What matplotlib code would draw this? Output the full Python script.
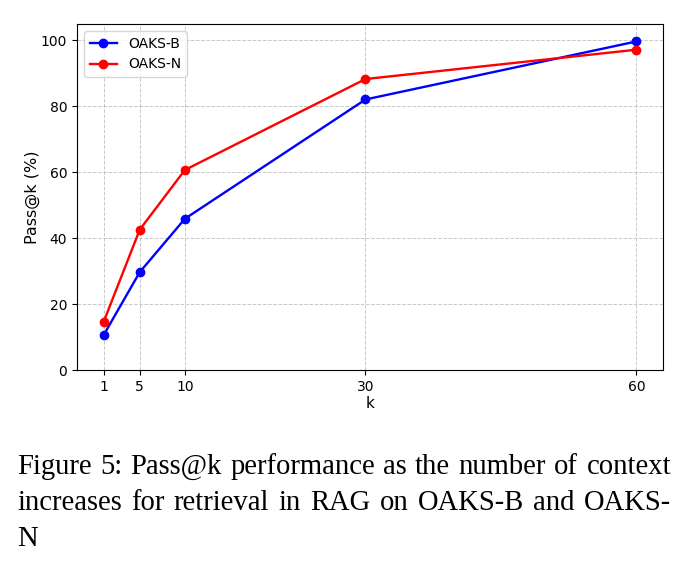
import matplotlib
matplotlib.use("Agg")
import matplotlib.pyplot as plt

k_values = [1, 5, 10, 30, 60]
oaks_b = [10.6, 29.7, 45.9, 82.1, 99.7]
oaks_n = [14.6, 42.6, 60.7, 88.3, 97.2]
y_ticks = [0, 20, 40, 60, 80, 100]
caption_lines = [
    "Figure 5: Pass@k performance as the number of context",
    "increases for retrieval in RAG on OAKS-B and OAKS-",
    "N",
]

W, H = 691, 570
fig = plt.figure(figsize=(W/100, H/100), dpi=100)
ax = fig.add_axes([77/W, 1-370/H, (663-77)/W, (370-24)/H])

ax.plot(k_values, oaks_b, color="blue", marker="o", markersize=6, linewidth=1.7, label="OAKS-B")
ax.plot(k_values, oaks_n, color="red", marker="o", markersize=6, linewidth=1.7, label="OAKS-N")
ax.set_xticks(k_values)
ax.set_yticks(y_ticks)
ax.set_ylim(0, 105)
ax.tick_params(labelsize=10)
ax.set_xlabel("k", fontsize=11, labelpad=2)
ax.set_ylabel("Pass@k (%)", fontsize=11.5, labelpad=1)
ax.grid(True, linestyle="--", color="#b0b0b0", alpha=0.7, linewidth=0.7)
ax.legend(loc="upper left", fontsize=10)

# Justified caption (word by word, real text)
renderer = fig.canvas.get_renderer()
left_px, right_px = 17, 671
baselines = [474, 510, 546]
for i, line in enumerate(caption_lines):
    words = line.split(" ")
    texts = [fig.text(0, 1 - baselines[i]/H, w, fontsize=20.6, family="Liberation Serif",
                      va="baseline", ha="left") for w in words]
    widths = [t.get_window_extent(renderer).width for t in texts]
    last = (i == len(caption_lines) - 1)
    if len(words) > 1 and not last:
        gap = (right_px - left_px - sum(widths)) / (len(words) - 1)
    else:
        gap = 5
    x = left_px
    for t, w in zip(texts, widths):
        t.set_x(x / W)
        x += w + gap

fig.savefig("out.png", dpi=100)
